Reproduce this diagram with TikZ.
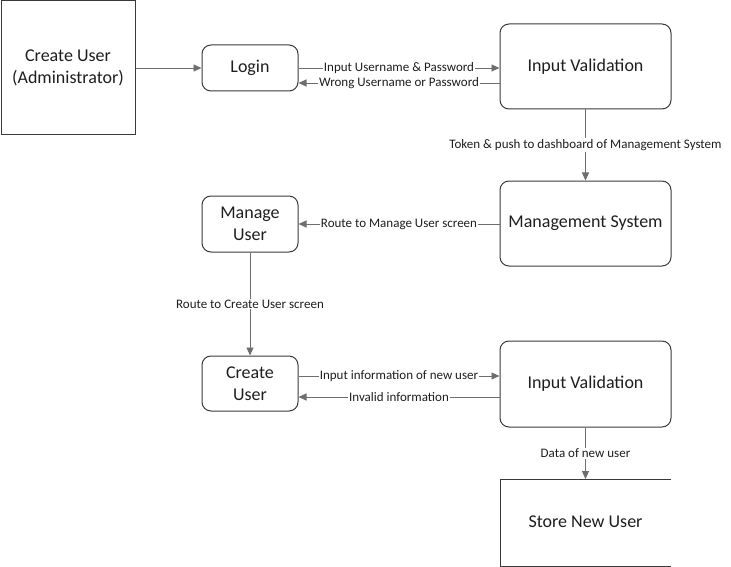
\documentclass[tikz,border=0pt]{standalone}
\usepackage{fontspec}
\setmainfont{Carlito}
\usetikzlibrary{arrows.meta,calc}
\definecolor{boxc}{HTML}{3A3A3A}
\definecolor{linec}{HTML}{6E6E6E}
\definecolor{txtc}{HTML}{1E1E1E}
\begin{document}
\begin{tikzpicture}[x=1pt,y=-1pt,
  box/.style={draw=boxc,line width=1pt,inner sep=0pt,align=center,text=txtc,font=\fontsize{18}{22}\selectfont},
  rbox/.style={box,rounded corners=9pt},
  arr/.style={draw=linec,line width=0.9pt,-{Triangle[length=8pt,width=7pt]}},
  lbl/.style={fill=white,inner sep=1pt,text=txtc,font=\fontsize{13}{15}\selectfont}]
\useasboundingbox (0,0) rectangle (731,567);
\node[box,minimum width=134pt,minimum height=134pt] (admin) at (68,68) {Create User\\(Administrator)};
\node[rbox,minimum width=96pt,minimum height=46pt] (login) at (250,68) {Login};
\node[rbox,minimum width=171pt,minimum height=85pt] (iv1) at (585.5,66.5) {Input Validation};
\node[rbox,minimum width=171pt,minimum height=85pt] (ms) at (585.5,223.5) {Management System};
\node[rbox,minimum width=96pt,minimum height=56pt] (mu) at (250,224) {Manage\\User};
\node[rbox,minimum width=96pt,minimum height=55pt] (cu) at (250,383.5) {Create\\User};
\node[rbox,minimum width=171pt,minimum height=86pt] (iv2) at (585.5,384) {Input Validation};
\node[text=txtc,font=\fontsize{18}{22}\selectfont] (store) at (585.5,522) {Store New User};
\coordinate (sTL) at (500,479);
\coordinate (sTR) at (671,479);
\coordinate (sBL) at (500,566);
\coordinate (sBR) at (671,566);
\draw[draw=boxc,line width=1pt] (sTR) -- (sTL) -- (sBL) -- (sBR);
% connectors
\draw[arr] (admin.east |- login.west) -- (login.west);
\draw[arr] (login.east) -- node[lbl]{Input Username \& Password} (login.east -| iv1.west);
\draw[arr] ($(iv1.west |- login.east)+(0,15)$) -- node[lbl]{Wrong Username or Password} ($(login.east)+(0,15)$);
\draw[arr] (iv1.south) -- node[lbl]{Token \& push to dashboard of Management System} (ms.north);
\draw[arr] (ms.west |- mu.east) -- node[lbl]{Route to Manage User screen} (mu.east);
\draw[arr] (mu.south) -- node[lbl]{Route to Create User screen} (cu.north);
\draw[arr] ($(cu.east)+(0,-7.5)$) -- node[lbl]{Input information of new user} ($(iv2.west |- cu.east)+(0,-7.5)$);
\draw[arr] ($(iv2.west |- cu.east)+(0,13.5)$) -- node[lbl]{Invalid information} ($(cu.east)+(0,13.5)$);
\draw[arr] (iv2.south) -- node[lbl]{Data of new user} (iv2.south |- sTL);
\end{tikzpicture}
\end{document}
